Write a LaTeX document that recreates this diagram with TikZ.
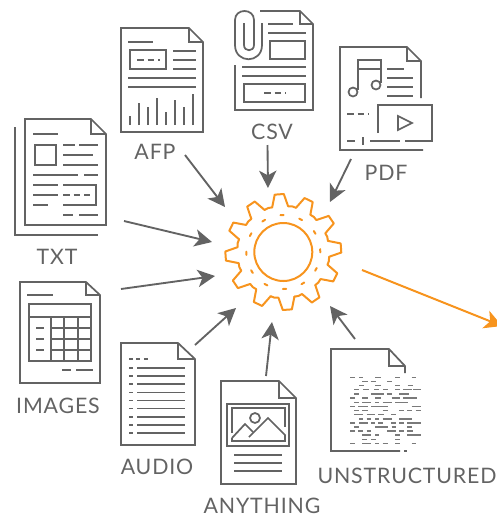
\documentclass[tikz,border=0pt]{standalone}
\usepackage{fontspec}
\setmainfont[LetterSpace=4]{Lato}
\usepackage{tikz}
\usetikzlibrary{arrows.meta}
\definecolor{docgray}{HTML}{636363}
\definecolor{gearorange}{HTML}{F7941E}

\begin{document}
\begin{tikzpicture}[x=0.75pt,y=-0.75pt,
	docline/.style={draw=docgray,line width=1.3pt,line join=miter},
	gearline/.style={draw=gearorange,line width=1.5pt,line cap=round,line join=round},
	doclabel/.style={text=docgray,inner sep=0pt,font=\fontsize{16}{18}\selectfont},
	feed/.style={draw=docgray,line width=1.4pt,-{Stealth[length=13pt,width=13pt,inset=3.5pt]}},
	outflow/.style={draw=gearorange,line width=1.5pt,-{Stealth[length=13pt,width=14pt,inset=3.5pt]}},
	]
	\useasboundingbox (0,0) rectangle (497,519);
	%AFP
	\draw[docline] (121,28) -- (189,28) -- (203,42) -- (203,132) -- (121,132) -- cycle;
	\draw[docline] (189,28) -- (189,42) -- (203,42);
	\draw[docline] (128,42) -- (153,42);
	\draw[docline] (130,50) rectangle (166,69);
	\draw[docline,dash pattern=on 5pt off 3pt] (137,60) -- (160,60);
	\foreach \ypos in {51,60,69} \draw[docline] (173,\ypos) -- (196,\ypos);
	\foreach \ypos in {78,87} \draw[docline] (128,\ypos) -- (196,\ypos);
	\foreach \xpos/\ytop in {130/116,139/103,148/107,157/98,166/112,175/100,184/107,193/94}
		\draw[docline] (\xpos,125) -- (\xpos,\ytop);
	\node[doclabel] (afp) at (155,152) {AFP};
	%TXT
	\draw[docline] (25,119) -- (91,119) -- (106,134) -- (106,225) -- (25,225) -- cycle;
	\draw[docline] (91,119) -- (91,134) -- (106,134);
	\draw[docline] (15,127) -- (15,235) -- (98,235);
	\draw[docline] (33,134) -- (58,134);
	\draw[docline] (35,145) rectangle (56,165);
	\draw[docline] (63,145) -- (75,145) (79,145) -- (98,145);
	\draw[docline] (63,155) -- (93,155);
	\draw[docline] (63,165) -- (98,165);
	\draw[docline] (33,175) -- (78,175) (84,175) -- (98,175);
	\draw[docline] (33,185) -- (58,185) (33,195) -- (58,195) (33,205) -- (48,205);
	\draw[docline] (63,185) -- (96,185) -- (96,205) -- (63,205);
	\draw[docline,dash pattern=on 5pt off 3pt] (63,195) -- (90,195);
	\draw[docline] (63,215) -- (73,215) (79,215) -- (98,215);
	\node[doclabel] (txt) at (57,257) {TXT};
	%CSV
	\draw[docline] (260,11) -- (300,11) -- (313,24) -- (313,110) -- (235,110) -- (235,65);
	\draw[docline] (300,11) -- (300,24) -- (313,24);
	\draw[docline] (262,23) -- (262,45) .. controls (262,64) and (235,64) .. (235,45) -- (235,20)
		.. controls (235,8) and (254,8) .. (254,20) -- (254,45)
		.. controls (254,52) and (244,52) .. (244,45) -- (244,23);
	\draw[docline] (268,24) -- (293,24);
	\draw[docline] (268,33) -- (306,33);
	\draw[docline] (270,41) rectangle (305,59);
	\foreach \ypos in {67,76} \draw[docline] (242,\ypos) -- (306,\ypos);
	\draw[docline] (244,84) rectangle (305,102);
	\draw[docline,dash pattern=on 5pt off 3pt] (264,93) -- (286,93);
	\node[doclabel] (csv) at (272,132) {CSV};
	%PDF
	\draw[docline] (421,98) -- (421,61) -- (407,47) -- (340,47) -- (340,150) -- (423,150);
	\draw[docline] (407,47) -- (407,61) -- (421,61);
	\draw[docline] (378,133) -- (378,105) -- (432,105) -- (432,141) -- (405,141);
	\draw[docline] (347,141) -- (355,141) (370,141) -- (400,141) (362.7,137) -- (362.7,145);
	\draw[docline,dash pattern=on 5pt off 3pt] (347,114) -- (369,114);
	\draw[docline] (398,116) -- (412,123) -- (398,130) -- cycle;
	\draw[docline] (353,92) circle (4.5) (376,85) circle (4.5);
	\draw[docline] (358,90) -- (358,60) -- (381,60) -- (381,83);
	\draw[docline] (358,69) -- (381,69);
	\draw[docline] (387,69) -- (404,69);
	\foreach \ypos in {78,87,96} \draw[docline] (387,\ypos) -- (413,\ypos);
	\node[doclabel] (pdf) at (386,173) {PDF};
	%IMAGES
	\draw[docline] (20,282) -- (86,282) -- (100,295) -- (100,383) -- (20,383) -- cycle;
	\draw[docline] (86,282) -- (86,295) -- (100,295);
	\draw[docline] (27,295) -- (53,295);
	\draw[docline] (29,304) rectangle (91,361);
	\draw[docline] (29,317) -- (91,317);
	\foreach \xpos in {51,64,78} \draw[docline] (\xpos,317) -- (\xpos,361);
	\foreach \ypos in {328,339,350} {
		\draw[docline] (51,\ypos) -- (91,\ypos);
		\draw[docline] (36,\ypos) -- (44,\ypos);
	}
	\draw[docline] (62,370) -- (71,370) (76,370) -- (93,370);
	\node[doclabel] (images) at (58,406) {IMAGES};
	%AUDIO
	\draw[docline] (121,343) -- (178,343) -- (195,359) -- (195,445) -- (121,445) -- cycle;
	\draw[docline] (178,343) -- (178,359) -- (195,359);
	\draw[docline,dash pattern=on 3pt off 2.6pt] (129,359) -- (150,359);
	\foreach \ypos in {368,376.1,384.3,392.4,400.5,408.6,416.8,424.9,433} {
		\draw[docline] (129,\ypos) -- (133,\ypos);
		\draw[docline] (137,\ypos) -- (185,\ypos);
	}
	\node[doclabel] (audio) at (157,467) {AUDIO};
	%ANYTHING
	\draw[docline] (221,381) -- (279,381) -- (296,398) -- (296,484) -- (221,484) -- cycle;
	\draw[docline] (279,381) -- (279,398) -- (296,398);
	\draw[docline] (227,404) rectangle (289,446);
	\draw[docline] (232,433) -- (232,408) -- (285,408) -- (285,427);
	\draw[docline] (232,438) -- (245,424) -- (253,432);
	\draw[docline] (249,437) -- (268,418) -- (285,435) -- (285,441) -- (232,441) -- (232,438);
	\draw[docline] (255,418) circle (5);
	\foreach \ypos in {455,463,471} \draw[docline] (234,\ypos) -- (282,\ypos);
	\node[doclabel] (anything) at (262,505.5) {ANYTHING};
	%UNSTRUCTURED
	\draw[docline] (405,373) -- (405,366) -- (389,349) -- (331,349) -- (331,451) -- (400,451);
	\draw[docline] (389,349) -- (389,366) -- (405,366);
	\draw[docline] (404,451) -- (407,451);
	\begin{scope}[shift={(345,372)},x=0.25pt,y=-0.25pt]
	\foreach \ypos/\segs in {16/{15/30,42/55,90/107,150/165,200/213},
		29/{52/68,77/93,126/141},
		41/{42/58,90/107,150/165,188/203},
		53/{28/42,55/72,87/101,115/130,150/165,175/200,205/227},
		66/{28/42,78/116,125/141,162/192},
		78/{15/30,52/68,90/107,140/165,175/215},
		91/{28/42,52/78,90/103,113/141,150/190},
		103/{15/30,40/68,78/130,200/227},
		116/{28/42,52/68,113/130,162/178,187/200,212/227},
		128/{28/55,65/90,100/116,138/153},
		141/{42/55,65/78,90/103,113/141,162/200},
		153/{15/30,42/68,78/90,100/115,138/153,162/178,187/227},
		165/{28/42,90/128,140/153,187/200},
		177/{15/30,40/55,65/78,127/153,162/178,187/203},
		189/{52/78,90/103,150/165,187/227},
		202/{52/65,78/92,150/165},
		214/{15/30,52/78,90/103,113/128,150/165,200/213}}
		\foreach \xa/\xb in \segs
			\draw[draw=docgray!85,line width=0.85pt] (\xa,\ypos) -- (\xb,\ypos);
	\end{scope}
	\node[doclabel] (unstructured) at (407,475.5) {UNSTRUCTURED};
	%gear
	\coordinate (gear) at (283.3,252);
	\begin{scope}[shift={(gear)}]
	\foreach \ang in {26,56,...,356}
		\draw[gearline] (\ang-10:46) -- (\ang-4.5:58) -- (\ang+4.5:58) -- (\ang+10:46)
			-- (\ang+15:46.5) -- (\ang+20:46);
	\foreach \ang in {28,58,...,358}
		\draw[gearline] (\ang-2.5:37) -- (\ang+2.5:37);
	\end{scope}
	\draw[gearline] (gear) circle (29);
	%arrows
	\coordinate (afptail) at (185,155);
	\coordinate (afptip) at (225,207);
	\coordinate (csvtail) at (267.5,145);
	\coordinate (csvtip) at (268,188);
	\coordinate (pdftail) at (351,159);
	\coordinate (pdftip) at (330,202);
	\coordinate (txttail) at (124,221);
	\coordinate (txttip) at (212,242);
	\coordinate (imagestail) at (121,289);
	\coordinate (imagestip) at (215,276);
	\coordinate (audiotail) at (195,345);
	\coordinate (audiotip) at (236,308);
	\coordinate (anythingtail) at (266,376);
	\coordinate (anythingtip) at (272,322);
	\coordinate (unstructuredtail) at (355,339);
	\coordinate (unstructuredtip) at (330,306);
	\coordinate (geartail) at (362,270);
	\coordinate (geartip) at (502,326);
	\draw[feed] (afptail) -- (afptip);
	\draw[feed] (csvtail) -- (csvtip);
	\draw[feed] (pdftail) -- (pdftip);
	\draw[feed] (txttail) -- (txttip);
	\draw[feed] (imagestail) -- (imagestip);
	\draw[feed] (audiotail) -- (audiotip);
	\draw[feed] (anythingtail) -- (anythingtip);
	\draw[feed] (unstructuredtail) -- (unstructuredtip);
	\draw[outflow] (geartail) -- (geartip);
\end{tikzpicture}
\end{document}
